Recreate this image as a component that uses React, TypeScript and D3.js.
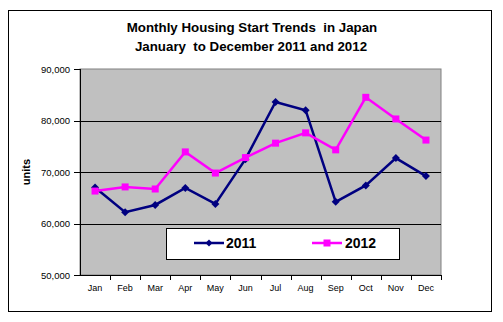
import React from "react";
import * as d3 from "d3";

const months = ["Jan", "Feb", "Mar", "Apr", "May", "Jun", "Jul", "Aug", "Sep", "Oct", "Nov", "Dec"];
const values2011 = [67000, 62200, 63600, 66900, 63800, 72500, 83600, 82000, 64200, 67400, 72700, 69200];
const values2012 = [66300, 67100, 66700, 73900, 69800, 72800, 75600, 77600, 74300, 84500, 80300, 76200];
const yTicks = [50000, 60000, 70000, 80000, 90000];

const W = 503, H = 322;
const L = 80, R = 441, T = 69, B = 275;

export default function App() {
  const x = d3.scaleBand<string>().domain(months).range([L, R]);
  const y = d3.scaleLinear().domain([50000, 90000]).range([B, T]);
  const cx = (m: string) => (x(m) as number) + x.bandwidth() / 2;
  const line = d3.line<number>().x((_, i) => cx(months[i])).y((v) => y(v));
  const fmt = d3.format(",");
  const font = "'Liberation Sans', Arial, sans-serif";
  const diamond = (px: number, py: number, s: number) =>
    `M${px},${py - s}L${px + s},${py}L${px},${py + s}L${px - s},${py}Z`;

  return (
    <svg width={W} height={H} style={{ position: "absolute", left: 0, top: 0 }} fontFamily={font}>
      <rect x={0} y={0} width={W} height={H} fill="#fff" />
      <rect x={8.5} y={10.5} width={483} height={301} fill="#fff" stroke="#000" strokeWidth={1} />
      <text x={252} y={32} textAnchor="middle" fontSize={13.3} fontWeight="bold" fill="#000" style={{ whiteSpace: "pre" }}>
        {"Monthly Housing Start Trends  in Japan"}
      </text>
      <text x={251} y={51} textAnchor="middle" fontSize={13.3} fontWeight="bold" fill="#000" style={{ whiteSpace: "pre" }}>
        {"January  to December 2011 and 2012"}
      </text>
      <rect x={L} y={T} width={R - L} height={B - T} fill="#c0c0c0" stroke="#808080" strokeWidth={1} />
      {yTicks.slice(1, -1).map((t) => (
        <line key={t} x1={L} x2={R} y1={Math.round(y(t)) + 0.5} y2={Math.round(y(t)) + 0.5} stroke="#000" strokeWidth={1} />
      ))}
      <line x1={L + 0.5} x2={L + 0.5} y1={T} y2={B} stroke="#000" />
      <line x1={L} x2={R} y1={B + 0.5} y2={B + 0.5} stroke="#000" />
      {yTicks.map((t) => (
        <g key={t}>
          <line x1={L - 6} x2={L} y1={Math.round(y(t)) + 0.5} y2={Math.round(y(t)) + 0.5} stroke="#000" />
          <text x={70} y={y(t) + 3.5} textAnchor="end" fontSize={9.5} fill="#000">{fmt(t)}</text>
        </g>
      ))}
      {months.map((m, i) => (
        <g key={m}>
          <line x1={Math.round((x(m) as number) + x.bandwidth()) + 0.5} x2={Math.round((x(m) as number) + x.bandwidth()) + 0.5} y1={B} y2={B + 5} stroke="#000" />
          <text x={cx(m)} y={291} textAnchor="middle" fontSize={9} fill="#000">{m}</text>
        </g>
      ))}
      <text transform={`translate(30,${(T + B) / 2}) rotate(-90)`} textAnchor="middle" fontSize={11} fontWeight="bold" fill="#000">units</text>
      <path d={line(values2011) || ""} fill="none" stroke="#000080" strokeWidth={2.5} />
      {values2011.map((v, i) => (
        <path key={i} d={diamond(cx(months[i]), y(v), 4)} fill="#000080" />
      ))}
      <path d={line(values2012) || ""} fill="none" stroke="#ff00ff" strokeWidth={2.5} />
      {values2012.map((v, i) => (
        <rect key={i} x={cx(months[i]) - 3.5} y={y(v) - 3.5} width={7} height={7} fill="#ff00ff" />
      ))}
      <rect x={166.5} y={228.5} width={233} height={31} fill="#fff" stroke="#000" strokeWidth={1} />
      <line x1={194} x2={224} y1={243} y2={243} stroke="#000080" strokeWidth={2.5} />
      <path d={diamond(209, 243, 3.5)} fill="#000080" />
      <text x={226} y={248} fontSize={14} fontWeight="bold" fill="#000">2011</text>
      <line x1={312} x2={342} y1={243} y2={243} stroke="#ff00ff" strokeWidth={2.5} />
      <rect x={323.5} y={239.5} width={7} height={7} fill="#ff00ff" />
      <text x={345} y={248} fontSize={14} fontWeight="bold" fill="#000">2012</text>
    </svg>
  );
}
